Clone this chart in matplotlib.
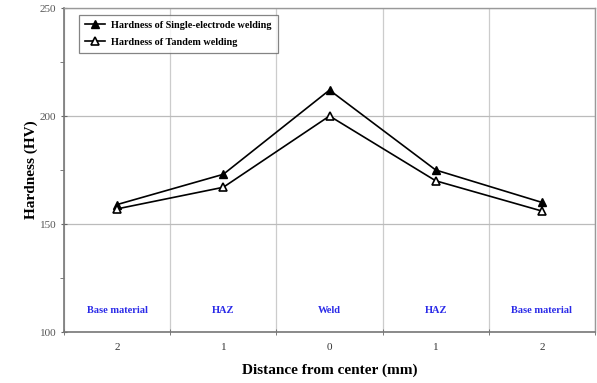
import matplotlib
matplotlib.use('Agg')
from matplotlib import pyplot as plt
import numpy as np

##############
# Chart data #
##############

positions = ['2', '1', '0', '1', '2']
zones = ['Base material', 'HAZ', 'Weld', 'HAZ', 'Base material']
single = [159, 173, 212, 175, 160]
tandem = [157, 167, 200, 170, 156]

plt.rcParams['font.family'] = ['Liberation Serif', 'DejaVu Serif']

fig = plt.figure(figsize=(5.97, 3.83), dpi=100)
ax = fig.add_axes([64 / 597, 51 / 383, 531 / 597, 324 / 383])

x = np.arange(len(positions))
ax.plot(x, single, color='black', lw=1.2, marker='^', ms=6,
        mfc='black', mec='black', label='Hardness of Single-electrode welding')
ax.plot(x, tandem, color='black', lw=1.2, marker='^', ms=6,
        mfc='white', mec='black', mew=1.2, label='Hardness of Tandem welding')

for xi, z in zip(x, zones):
    ax.text(xi, 110, z, color='#2a2ae8', fontsize=7.5, fontweight='bold',
            ha='center', va='center')

ax.set_xlim(-0.5, len(positions) - 0.5)
ax.set_ylim(100, 250)
ax.set_xticks(x)
ax.set_xticklabels(positions, fontsize=8, color='#333333')
ax.set_xticks(np.arange(-0.5, len(positions), 1.0), minor=True)
ax.set_yticks([100, 150, 200, 250])
ax.set_yticks([125, 175, 225], minor=True)
ax.tick_params(axis='y', labelsize=8, labelcolor='#555555', length=4,
               color='#666666', direction='inout')
ax.tick_params(axis='y', which='minor', length=3, color='#666666', direction='out')
ax.tick_params(axis='x', which='major', length=0, pad=8)
ax.tick_params(axis='x', which='minor', length=4, color='#666666', direction='inout')

ax.grid(True, axis='y', which='major', color='#bbbbbb', lw=0.9)
ax.grid(True, axis='x', which='minor', color='#cccccc', lw=0.9)
ax.set_axisbelow(True)

for s in ['left', 'bottom']:
    ax.spines[s].set_color('#777777')
    ax.spines[s].set_linewidth(1.2)
for s in ['right', 'top']:
    ax.spines[s].set_color('#999999')
    ax.spines[s].set_linewidth(1.0)

ax.set_ylabel('Hardness (HV)', fontsize=11, fontweight='bold', labelpad=1)
ax.set_xlabel('Distance from center (mm)', fontsize=11, fontweight='bold', labelpad=8)

leg = ax.legend(loc='upper left', bbox_to_anchor=(0.018, 0.995),
                prop={'weight': 'bold', 'size': 7.3}, frameon=True, fancybox=False,
                edgecolor='#666666', handlelength=2.0, borderpad=0.6, labelspacing=0.75,
                handletextpad=0.6)
leg.get_frame().set_linewidth(0.9)

fig.savefig('out.png', dpi=100)
